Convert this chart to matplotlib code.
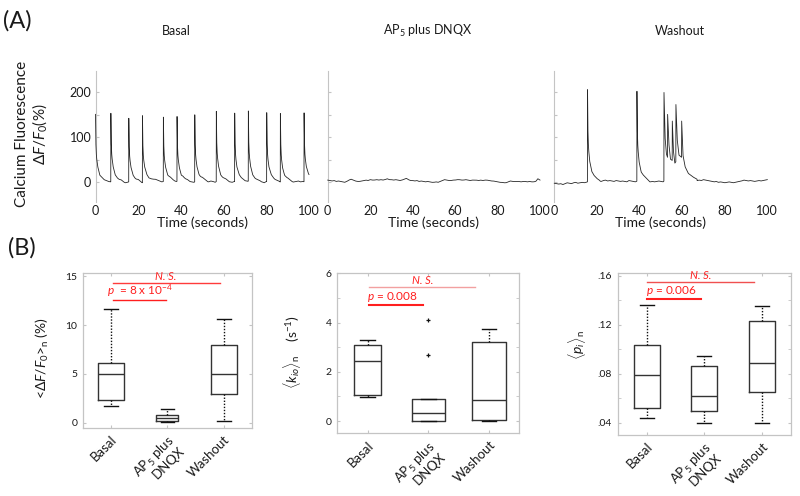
import numpy as np
import matplotlib
matplotlib.use("Agg")
import matplotlib.pyplot as plt

plt.rcParams['font.family'] = ['Lato', 'DejaVu Sans']
plt.rcParams['mathtext.fontset'] = 'custom'
plt.rcParams['mathtext.rm'] = 'Lato'
plt.rcParams['mathtext.it'] = 'Lato:italic'

# ---------------- Data: calcium traces (panel A) ----------------
time_ticks = [0, 20, 40, 60, 80, 100]
trace_yticks = [0, 100, 200]
panel_titles = ["Basal", "AP$_5$ plus DNQX", "Washout"]

# baseline (1 s grid, 0..100 s), in % dF/F0
basal_base = [0, 2, 0, 1, -1, 0, 1, 0, 2, 1, 0, -1, 1, 0, -2, -1, 1, 2, 0, -1,
              1, 0, -2, 1, 2, 0, 1, 3, 6, 4, 2, 0, 1, 2, 1, 3, 1, 0, 1, 2,
              0, 3, 1, 2, 1, 0, -1, 1, 2, 1, 3, 2, 1, 0, 2, 1, -1, 2, 1, 0,
              1, 2, 1, 0, -1, 1, 0, 2, 1, 0, -1, 1, 2, 1, 0, -1, 0, 1, 0, -2,
              1, 0, 2, 1, -1, 0, 1, -1, -2, 0, 1, 0, -1, 0, 1, 2, 0, 1, 0, 2, 3]
ap5_base = [4, 3, 2, 3, 1, 2, 1, 0, -1, 1, 4, 6, 4, 2, 1, 1, 2, 3, 4, 3,
            5, 4, 4, 5, 4, 5, 4, 5, 7, 5, 5, 4, 5, 4, 3, 4, 6, 8, 5, 3,
            3, 2, 3, 1, 2, 1, 0, 1, 0, -1, -1, 0, -1, 1, 3, 5, 4, 3, 3, 4,
            4, 5, 5, 4, 4, 5, 4, 3, 4, 4, 4, 3, 4, 3, 4, 4, 3, 2, 2, 1,
            0, -1, -1, -2, -2, 0, 2, 1, 1, 1, 1, 0, 1, 1, 0, 1, 0, 0, 1, 7, 4]
washout_base = [-3, -4, -5, -4, -6, -4, -2, -3, -4, -2, -1, -3, -2, -1, -2, -1, 1, 2, 3, 2,
                1, 2, 1, 3, 4, 2, 3, 2, 1, 3, 2, 1, 2, 1, 0, 3, 2, 1, 0, 2,
                1, 2, 3, 2, 1, 0, 1, 0, 1, 2, 1, 0, 3, 5, 6, 6, 6, 5, 5, 5,
                5, 5, 5, 5, 6, 5, 4, 3, 4, 3, 5, 4, 3, 2, 1, 0, 1, -1, 0, -1,
                -2, -1, 0, -1, -2, -1, 0, 1, 2, 4, 3, 2, 3, 2, 1, 2, 3, 2, 3, 4, 5]

# calcium transient shape (offset s, fraction of peak)
decay_off = [-0.05, 0.0, 0.15, 0.3, 0.5, 1.0, 2.0, 3.0, 4.0, 6.0]
decay_frac = [0.0, 1.0, 0.6, 0.45, 0.35, 0.22, 0.10, 0.06, 0.04, 0.0]

basal_spike_t = [0.0, 7.2, 15.6, 22.0, 31.8, 38.2, 46.5, 56.6, 65.2, 71.6, 80.2, 86.6, 97.7]
basal_spike_amp = [151, 153, 142, 150, 144, 145, 150, 157, 153, 157, 154, 153, 154]
ap5_spike_t = []
ap5_spike_amp = []
washout_spike_t = [15.6, 38.8]
washout_spike_amp = [206, 201]
# burst in washout (absolute values)
burst_t = [51.45, 51.5, 52.0, 52.6, 53.15, 53.2, 53.8, 54.5, 55.35, 55.4, 55.9, 56.6, 57.05,
           57.1, 57.7, 58.5, 59.75, 59.8, 60.4, 61.4, 62.9, 65.1, 67.0]
burst_v = [3, 200, 100, 63, 55, 151, 85, 51, 48, 136, 70, 42, 45,
           173, 95, 60, 55, 136, 60, 34, 19, 11, 6]

# ---------------- Data: box plots (panel B) ----------------
conditions = ["Basal", "AP$_5$ plus\nDNQX", "Washout"]

dff_whislo = [1.68, 0.10, 0.17]
dff_q1 = [2.37, 0.17, 2.92]
dff_med = [4.98, 0.48, 4.98]
dff_q3 = [6.15, 0.85, 8.00]
dff_whishi = [11.68, 1.40, 10.65]
dff_fliers = [[], [], []]

kio_whislo = [0.99, 0.0, 0.0]
kio_q1 = [1.05, 0.0, 0.04]
kio_med = [2.45, 0.31, 0.87]
kio_q3 = [3.09, 0.91, 3.21]
kio_whishi = [3.29, 0.91, 3.76]
kio_fliers = [[], [2.69, 4.11], []]

p_whislo = [0.0443, 0.0402, 0.0402]
p_q1 = [0.0525, 0.0498, 0.0650]
p_med = [0.0792, 0.0618, 0.0890]
p_q3 = [0.1039, 0.0863, 0.1233]
p_whishi = [0.1363, 0.0944, 0.1353]
p_fliers = [[], [], []]

dff_sig = {"ns_y": 14.29, "ns_x": (1.04, 2.93), "p_y": 12.54, "p_x": (1.04, 1.98),
           "p_text": r"$p$  = 8 x 10$^{-4}$", "p_tx": 1.52, "ns_tx": 1.97}
kio_sig = {"ns_y": 5.43, "ns_x": (1.02, 2.77), "p_y": 4.73, "p_x": (1.03, 1.91),
           "p_text": r"$p$ = 0.008", "p_tx": 1.40, "ns_tx": 1.90}
p_sig = {"ns_y": 0.1549, "ns_x": (1.01, 2.86), "p_y": 0.141, "p_x": (1.01, 1.95),
         "p_text": r"$p$ = 0.006", "p_tx": 1.43, "ns_tx": 1.94}

# ---------------- Figure ----------------
fig = plt.figure(figsize=(8.0, 4.96), dpi=100)
W, H = 800.0, 496.0

def ax_px(l, r, t, b):
    return fig.add_axes([l / W, 1 - b / H, (r - l) / W, (b - t) / H])

spine_gray = '#c4c4c4'
txt = '#1a1a1a'

t = np.round(np.arange(0, 100.0001, 0.05), 3)
sec = np.arange(0, 101)

def make_trace(base, sp_t, sp_a):
    y = np.interp(t, sec, base).astype(float)
    for ts, a in zip(sp_t, sp_a):
        y = y + a * np.interp(t - ts, decay_off, decay_frac, left=0, right=0)
    return y

traces = [make_trace(basal_base, basal_spike_t, basal_spike_amp),
          make_trace(ap5_base, ap5_spike_t, ap5_spike_amp),
          make_trace(washout_base, washout_spike_t, washout_spike_amp)]
inside = (t >= burst_t[0]) & (t <= burst_t[-1])
traces[2] = np.where(inside, np.maximum(np.interp(t, burst_t, burst_v), traces[2]), traces[2])

top_boxes = [(95.5, 309.0), (327.7, 540.0), (554.3, 767.3)]
title_x = [176, 428, 680]
for i, (l, r) in enumerate(top_boxes):
    ax = ax_px(l, r, 71, 202)
    ax.plot(t, traces[i], color='#262626', lw=0.6, zorder=3, clip_on=False)
    ax.set_xlim(0, 100)
    ax.set_ylim(-45, 248)
    for s in ['top', 'right', 'bottom']:
        ax.spines[s].set_visible(False)
    ax.spines['left'].set_color(spine_gray)
    ax.spines['left'].set_linewidth(0.8)
    ax.set_xticks(time_ticks)
    ax.set_yticks([0, 50, 100, 150, 200])
    if i == 0:
        ax.set_yticklabels([str(v) if v in trace_yticks else '' for v in [0, 50, 100, 150, 200]])
    else:
        ax.set_yticklabels([])
    ax.tick_params(axis='y', direction='in', length=2, color=spine_gray, labelsize=9,
                   labelcolor=txt, pad=3)
    ax.tick_params(axis='x', length=0, labelsize=9, labelcolor=txt, pad=2)
    ax.set_xlabel("Time (seconds)", fontsize=10, color=txt, labelpad=0)
    fig.text(title_x[i] / W, 1 - 31 / H, panel_titles[i], ha='center', va='center',
             fontsize=9, color=txt)

fig.text(32 / W, 1 - 134 / H, "Calcium Fluorescence\n" + r"$\Delta F/F_0$(%)",
         rotation=90, ha='center', va='center', fontsize=11, color=txt, linespacing=1.1)
fig.text(3 / W, 1 - 21 / H, "(A)", ha='left', va='center', fontsize=17, color=txt)
fig.text(8 / W, 1 - 248 / H, "(B)", ha='left', va='center', fontsize=17, color=txt)

def stats(lo, q1, med, q3, hi, fl):
    return [dict(whislo=lo[k], q1=q1[k], med=med[k], q3=q3[k], whishi=hi[k],
                 fliers=fl[k]) for k in range(len(lo))]

bottom_specs = [
    dict(box=(82.7, 252.0, 273.3, 427.7), ylim=(-0.5, 15.3), yt=[0, 5, 10, 15],
         ytl=['0', '5', '10', '15'], minor=None,
         st=stats(dff_whislo, dff_q1, dff_med, dff_q3, dff_whishi, dff_fliers),
         widths=[0.47, 0.39, 0.47], sig=dff_sig, ns_color='#ff3b3b', p_lw=1.0,
         ylabel=r"<$\Delta F/F_0$>$_{\rm n}$ (%)", ylx=42, yly=358),
    dict(box=(337.3, 519.3, 272.7, 433.3), ylim=(-0.5, 6.03), yt=[0, 2, 4, 6],
         ytl=['0', '2', '4', '6'], minor=[1, 3, 5],
         st=stats(kio_whislo, kio_q1, kio_med, kio_q3, kio_whishi, kio_fliers),
         widths=[0.45, 0.54, 0.55], sig=kio_sig, ns_color='#f2a0a0', p_lw=1.5,
         ylabel=r"$\langle k_{io}\rangle_{\rm n}$    (s$^{-1}$)", ylx=292, yly=352),
    dict(box=(617.7, 791.0, 273.3, 435.0), ylim=(0.0302, 0.1622), yt=[0.04, 0.08, 0.12, 0.16],
         ytl=['.04', '.08', '.12', '.16'], minor=[0.06, 0.10, 0.14],
         st=stats(p_whislo, p_q1, p_med, p_q3, p_whishi, p_fliers),
         widths=[0.45, 0.45, 0.46], sig=p_sig, ns_color='#f05050', p_lw=1.5,
         ylabel=r"$\langle p_i\rangle_{\rm n}$", ylx=577, yly=345),
]

red = '#ff1f1f'
for spec in bottom_specs:
    l, r, tp, b = spec['box']
    ax = ax_px(l, r, tp, b)
    ax.bxp(spec['st'], positions=[1, 2, 3], widths=spec['widths'], capwidths=0.24,
           boxprops=dict(color='#333333', lw=1.0),
           whiskerprops=dict(color='#111111', lw=1.0, ls=(0, (1, 1.2))),
           capprops=dict(color='#111111', lw=1.0),
           medianprops=dict(color='#333333', lw=1.0),
           flierprops=dict(marker='+', ms=3.5, mec='#111111', mew=0.9))
    ax.set_xlim(0.5, 3.5)
    ax.set_ylim(*spec['ylim'])
    for s in ax.spines.values():
        s.set_color(spine_gray)
        s.set_linewidth(0.9)
    ax.set_yticks(spec['yt'])
    ax.set_yticklabels(spec['ytl'])
    if spec['minor'] is not None:
        ax.set_yticks(spec['minor'], minor=True)
    ax.set_xticks([1, 2, 3])
    ax.set_xticklabels(conditions, rotation=45, ha='right', va='top',
                       rotation_mode='anchor', fontsize=9.5, color=txt, linespacing=1.0)
    ax.tick_params(axis='both', which='both', direction='in', length=2, color=spine_gray,
                   top=True, right=True)
    ax.tick_params(axis='y', labelsize=7.5, labelcolor=txt, pad=4)
    ax.tick_params(axis='x', pad=4)
    sg = spec['sig']
    ax.plot(sg['ns_x'], [sg['ns_y']] * 2, color=spec['ns_color'], lw=1.0)
    ax.plot(sg['p_x'], [sg['p_y']] * 2, color=red, lw=spec['p_lw'])
    ax.annotate("N. S.", (sg['ns_tx'], sg['ns_y']), xytext=(0, 0.8), textcoords='offset points',
                ha='center', va='bottom', color=red, fontsize=8, style='italic')
    ax.annotate(sg['p_text'], (sg['p_tx'], sg['p_y']), xytext=(0, 0.8), textcoords='offset points',
                ha='center', va='bottom', color=red, fontsize=8.5)
    fig.text(spec['ylx'] / W, 1 - spec['yly'] / H, spec['ylabel'], rotation=90,
             ha='center', va='center', fontsize=10, color=txt)

fig.savefig("out.png", dpi=100)
